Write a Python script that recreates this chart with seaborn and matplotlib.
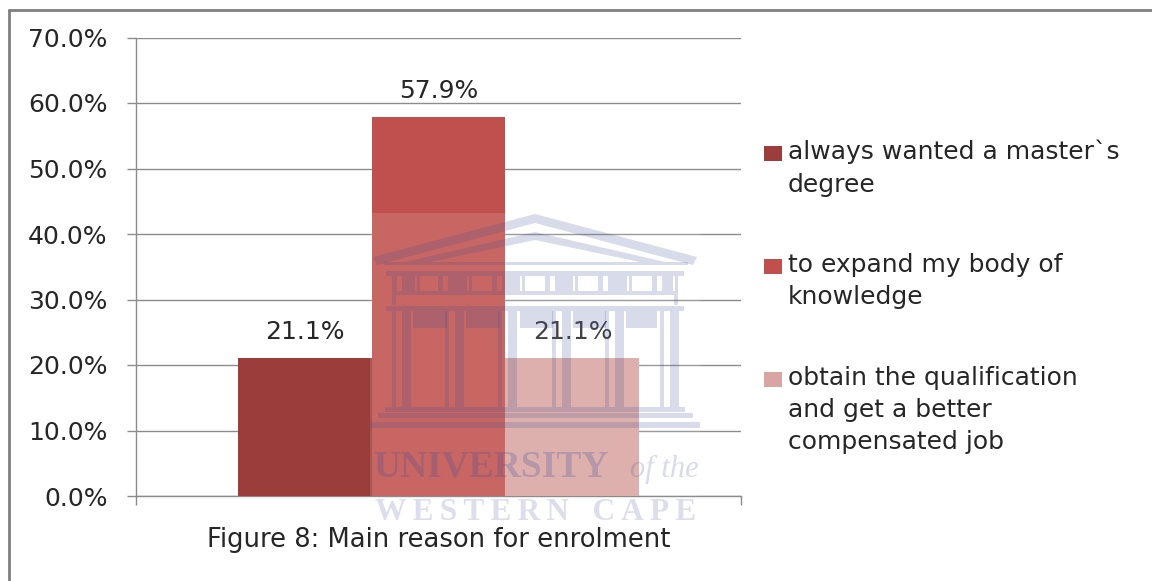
import matplotlib
matplotlib.use('Agg')
import matplotlib.pyplot as plt
import pandas as pd
import seaborn as sns
from matplotlib.patches import Polygon, Rectangle
from matplotlib.ticker import FuncFormatter

# values
reasons = [
    'always wanted a master`s\ndegree',
    'to expand my body of\nknowledge',
    'obtain the qualification\nand get a better\ncompensated job',
]
shares = [21.1, 57.9, 21.1]
bar_colors = ['#9B3D3A', '#C0504D', '#D9A5A3']
y_ticks = [0, 10, 20, 30, 40, 50, 60, 70]
caption = 'Figure 8: Main reason for enrolment'

W, H = 1152, 581
GRID = '#8C8C8C'
TEXT = '#262626'
MARK = (0.25, 0.30, 0.58)


def px_axes(fig, left, top, right, bottom):
    """Axes placed by reference pixel edges"""
    return fig.add_axes([left / W, 1 - bottom / H, (right - left) / W, (bottom - top) / H])


def draw_watermark(ov):
    """University crest over the chart, in pixel coordinates"""
    alpha = 0.2

    def box(x0, y0, x1, y1):
        ov.add_patch(Rectangle((x0, y0), x1 - x0, y1 - y0, fc=MARK, ec='none', alpha=alpha))

    def poly(*pts):
        ov.add_patch(Polygon(pts, closed=True, fc=MARK, ec='none', alpha=alpha))

    # haze of the pasted image
    ov.add_patch(Rectangle((370, 213), 330, 283, fc='white', ec='none', alpha=0.13))

    # roof
    poly((373, 257), (535, 214), (697, 257), (693, 265), (535, 223), (377, 265))
    poly((405, 262), (535, 232), (665, 262), (640, 262), (535, 240), (430, 262))
    box(384, 262, 688, 265)
    box(386, 271, 684, 276)

    # frieze band with its window openings
    edges = [392, 420, 438, 472, 492, 525, 545, 578, 598, 632, 652, 678]
    for x0, x1 in zip(edges[::2], edges[1::2]):
        box(x0, 276, x0 + 5, 291)
        box(x0 + 10, 276, x1 - 5, 291) if x1 - x0 > 20 else None
        box(x1 - 3, 276, x1, 291)
    box(392, 291, 678, 295)
    box(392, 295, 396, 305)
    box(674, 295, 678, 305)

    # architrave with white capitals
    box(386, 306, 684, 311)
    caps = [388, 413, 447, 466, 500, 520, 553, 573, 606, 626, 657, 680]
    for x0, x1 in zip(caps[1::2], caps[2::2]):
        box(x0, 311, x1, 328)

    # columns
    for x in [392, 445, 498, 552, 605, 660]:
        box(x, 311, x + 4, 407)
        box(x + 10, 311, x + 19, 407)

    # steps
    box(385, 407, 685, 412)
    box(378, 413, 693, 418)
    box(370, 422, 700, 428)

    ov.text(373, 467, 'UNIVERSITY', color=MARK, alpha=0.25, fontsize=27, family='Liberation Serif',
            fontweight='bold', ha='left', va='center')
    ov.text(664, 469, 'of the', color=MARK, alpha=0.2, fontsize=22, family='Liberation Serif',
            style='italic', ha='center', va='center')
    ov.text(535.5, 513, 'W\u2009E\u2009S\u2009T\u2009E\u2009R\u2009N   C\u2009A\u2009P\u2009E', color=MARK,
            alpha=0.18, fontsize=22.5, family='Liberation Serif', fontweight='bold', ha='center', va='center')


sns.set_theme(style='white')
plt.rcParams['font.family'] = ['DejaVu Sans']

df = pd.DataFrame({'group': [''] * len(reasons), 'reason': reasons, 'share': shares})

fig = plt.figure(figsize=(W / 100, H / 100), dpi=100, facecolor='white')

# outer frame, cut by the screenshot on the right
frame = fig.add_axes([0, 0, 1, 1], zorder=0)
frame.set_xlim(0, W)
frame.set_ylim(H, 0)
frame.axis('off')
frame.plot([9, 9], [H, 10], color='#7F7F7F', lw=2)
frame.plot([9, W], [10, 10], color='#7F7F7F', lw=2)

ax = px_axes(fig, 136, 37.5, 741, 496)
ax.set_zorder(1)
ax.patch.set_alpha(0)
sns.barplot(data=df, x='group', y='share', hue='reason', hue_order=reasons,
            palette=bar_colors, saturation=1, width=0.664, gap=0, linewidth=0,
            legend=False, ax=ax, zorder=3)

ax.set_xlim(-0.5, 0.5)
ax.set_ylim(0, 70)
ax.set_yticks(y_ticks)
ax.yaxis.set_major_formatter(FuncFormatter(lambda v, _: f'{v:.1f}%'))
ax.set_xlabel('')
ax.set_ylabel('')
ax.set_xticks([-0.5, 0.5])
ax.set_xticklabels(['', ''])
ax.grid(axis='y', color=GRID, lw=1)
ax.set_axisbelow(True)
ax.tick_params(axis='y', length=6.5, width=1, color=GRID, labelsize=18, labelcolor=TEXT, pad=14,
               left=True)
ax.tick_params(axis='x', length=6.5, width=1, color=GRID, bottom=True)
for side in ['top', 'right']:
    ax.spines[side].set_visible(False)
for side in ['left', 'bottom']:
    ax.spines[side].set_color(GRID)
    ax.spines[side].set_linewidth(1)

for container in ax.containers:
    ax.bar_label(container, fmt='%.1f%%', padding=10, fontsize=18, color=TEXT)

ov = fig.add_axes([0, 0, 1, 1], zorder=2)
ov.set_xlim(0, W)
ov.set_ylim(H, 0)
ov.axis('off')
draw_watermark(ov)
ov.text(438.5, 540, caption, ha='center', va='center', fontsize=18.6, color=TEXT)

# legend keys sit on the first line of each label
for label, color, top in zip(reasons, bar_colors, [146, 259, 372]):
    ov.add_patch(Rectangle((764, top), 18, 15, fc=color, ec='none'))
    ov.text(788, top - 6, label, ha='left', va='top', fontsize=18, color=TEXT, linespacing=1.43)

fig.savefig('out.png', dpi=100)
